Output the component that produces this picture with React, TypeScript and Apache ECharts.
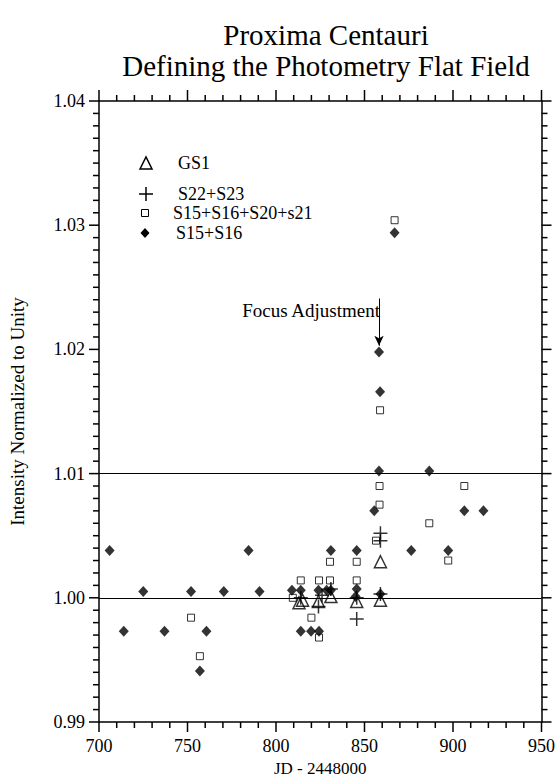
import React, { useEffect, useRef } from "react";
import * as echarts from "echarts";

const titleLines = ["Proxima Centauri", "Defining the Photometry Flat Field"];
const xTitle = "JD - 2448000";
const yTitle = "Intensity Normalized to Unity";

const xRange = [700, 950];
const xStep = 50;
const yRange = [0.99, 1.04];
const yStep = 0.01;
const xMinorPerMajor = 5;
const yMinorPerMajor = 10;

const gs1X = [813, 815, 824, 831, 845.6, 859, 859];
const gs1Y = [0.9996, 0.9998, 0.9997, 1.0001, 0.9997, 1.0029, 0.9998];

const s2223X = [814, 824, 826, 831, 845.6, 845.6, 859, 859, 859];
const s2223Y = [1.0, 0.9993, 1.0002, 1.0007, 1.0, 0.9983, 1.0003, 1.0046, 1.0052];

const sqX = [752, 757, 809.5, 814, 820, 824.3, 824.3, 830.5, 830.5, 845.6, 845.6, 856.5, 858.5, 858.5, 858.8, 867, 886.6, 897.3, 906.4];
const sqY = [0.9984, 0.9953, 1.0, 1.0014, 0.9984, 0.9968, 1.0014, 1.0029, 1.0014, 1.0029, 1.0014, 1.0046, 1.0075, 1.009, 1.0151, 1.0304, 1.006, 1.003, 1.009];

const dmX = [706, 714, 725, 737, 752, 757, 760.7, 770.5, 784.5, 790.7, 809, 814, 814, 819.8, 824, 824.3, 828.6, 831, 831, 845.6, 845.6, 845, 855.5, 858.2, 858.8, 858.2, 859, 867, 876.4, 886.6, 897.3, 906.4, 917.2];
const dmY = [1.0038, 0.9973, 1.0005, 0.9973, 1.0005, 0.9941, 0.9973, 1.0005, 1.0038, 1.0005, 1.0006, 1.0006, 0.9973, 0.9973, 1.0006, 0.9973, 1.0006, 1.0038, 1.0006, 1.0038, 1.0007, 1.0001, 1.007, 1.0102, 1.0166, 1.0198, 1.0003, 1.0294, 1.0038, 1.0102, 1.0038, 1.007, 1.007];

const refLines = [1.0, 1.01];
const arrowX = 858.2;
const arrowFrom = 1.0241;
const arrowTo = 1.0203;
const annotation = "Focus Adjustment";

const legendNames = ["GS1", "S22+S23", "S15+S16+S20+s21", "S15+S16"];

const FONT = "'Liberation Serif', 'Times New Roman', serif";
const zip = (xs: number[], ys: number[]) => xs.map((x, i) => [x, ys[i]]);

// tick specs: [x, y, kind (0 = x tick, 1 = y tick), major]
function tickSpecs() {
  const out: number[][] = [];
  const nx = Math.round((xRange[1] - xRange[0]) / xStep) * xMinorPerMajor;
  for (let i = 0; i <= nx; i++) {
    const v = xRange[0] + (i * xStep) / xMinorPerMajor;
    out.push([v, yRange[0], 0, i % xMinorPerMajor === 0 ? 1 : 0]);
  }
  const ny = Math.round((yRange[1] - yRange[0]) / yStep) * yMinorPerMajor;
  for (let i = 0; i <= ny; i++) {
    const v = +(yRange[0] + (i * yStep) / yMinorPerMajor).toFixed(4);
    out.push([xRange[0], v, 1, i % yMinorPerMajor === 0 ? 1 : 0]);
  }
  return out;
}

function mkAxis(kind: "x" | "y", position: string, main: boolean) {
  const labelStyle = { color: "#000", fontFamily: FONT, fontSize: 18 };
  const base: any = {
    type: "value",
    position,
    min: kind === "x" ? xRange[0] : yRange[0],
    max: kind === "x" ? xRange[1] : yRange[1],
    interval: kind === "x" ? xStep : yStep,
    axisLine: { show: true, onZero: false, lineStyle: { color: "#000", width: 1.5 } },
    axisTick: { show: false },
    minorTick: { show: false },
    splitLine: { show: false },
    minorSplitLine: { show: false },
    axisLabel: main
      ? { ...labelStyle, margin: kind === "x" ? 15 : 14, formatter: kind === "y" ? (v: number) => v.toFixed(2) : (v: number) => String(v) }
      : { show: false },
  };
  if (main) {
    base.name = kind === "x" ? xTitle : yTitle;
    base.nameLocation = "middle";
    base.nameGap = kind === "x" ? 36 : 72;
    base.nameTextStyle = { ...labelStyle, fontSize: kind === "x" ? 17 : 19 };
  }
  return base;
}

export default function App() {
  const ref = useRef<HTMLDivElement>(null);
  useEffect(() => {
    document.body.style.margin = "0";
    const chart = echarts.init(ref.current!, null, { renderer: "svg" });
    const plus = "path://M5,0L5,10M0,5L10,5";
    const tickLine = (x1: number, y1: number, x2: number, y2: number) => ({
      type: "line",
      shape: { x1, y1, x2, y2 },
      style: { stroke: "#000", lineWidth: 1.5 },
    });
    chart.setOption({
      animation: false,
      backgroundColor: "#fff",
      title: {
        text: titleLines.join("\n"),
        left: 321,
        top: 14,
        textAlign: "center",
        textStyle: { fontFamily: FONT, fontSize: 29, fontWeight: "normal", color: "#000", lineHeight: 31 },
      },
      grid: { left: 95.5, right: 13, top: 101, bottom: 62 },
      xAxis: [mkAxis("x", "bottom", true), mkAxis("x", "top", false)],
      yAxis: [mkAxis("y", "left", true), mkAxis("y", "right", false)],
      graphic: [
        { type: "polygon", shape: { points: [[140, 169], [146, 157], [152, 169]] }, style: { fill: "none", stroke: "#000", lineWidth: 1.5 } },
        { type: "text", x: 178, y: 163, style: { text: legendNames[0], font: `18px ${FONT}`, fill: "#000", textVerticalAlign: "middle" } },
        { type: "line", shape: { x1: 139, y1: 194, x2: 153, y2: 194 }, style: { stroke: "#000", lineWidth: 1.5 } },
        { type: "line", shape: { x1: 146, y1: 187, x2: 146, y2: 201 }, style: { stroke: "#000", lineWidth: 1.5 } },
        { type: "text", x: 178, y: 194, style: { text: legendNames[1], font: `18px ${FONT}`, fill: "#000", textVerticalAlign: "middle" } },
        { type: "rect", shape: { x: 141.5, y: 209.5, width: 7, height: 7 }, style: { fill: "none", stroke: "#000", lineWidth: 1 } },
        { type: "text", x: 173, y: 213, style: { text: legendNames[2], font: `18px ${FONT}`, fill: "#000", textVerticalAlign: "middle" } },
        { type: "polygon", shape: { points: [[145, 228], [149.5, 233], [145, 238], [140.5, 233]] }, style: { fill: "#000" } },
        { type: "text", x: 176, y: 233, style: { text: legendNames[3], font: `18px ${FONT}`, fill: "#000", textVerticalAlign: "middle" } },
        { type: "text", x: 380, y: 310, style: { text: annotation, font: `19px ${FONT}`, fill: "#000", textAlign: "right", textVerticalAlign: "middle" } },
      ],
      series: [
        {
          type: "custom",
          silent: true,
          clip: false,
          z: 5,
          data: tickSpecs(),
          encode: { x: 0, y: 1 },
          renderItem: (_params: any, api: any) => {
            const x = api.value(0);
            const y = api.value(1);
            const kind = api.value(2);
            const major = api.value(3) === 1;
            if (kind === 0) {
              const b = api.coord([x, yRange[0]]);
              const t = api.coord([x, yRange[1]]);
              const lb = major ? 10 : 6;
              const lt = major ? 11 : 6;
              return { type: "group", children: [tickLine(b[0], b[1], b[0], b[1] + lb), tickLine(t[0], t[1], t[0], t[1] - lt)] };
            }
            const l = api.coord([xRange[0], y]);
            const r = api.coord([xRange[1], y]);
            const len = major ? 10 : 6;
            return { type: "group", children: [tickLine(l[0], l[1], l[0] - len, l[1]), tickLine(r[0], r[1], r[0] + len, r[1])] };
          },
        },
        {
          name: legendNames[2], type: "scatter", data: zip(sqX, sqY),
          symbol: "rect", symbolSize: 7,
          itemStyle: { color: "#fff", borderColor: "#000", borderWidth: 1 },
          markLine: {
            silent: true, symbol: ["none", "none"],
            lineStyle: { color: "#000", width: 1, type: "solid" },
            label: { show: false },
            data: refLines.map((v) => ({ yAxis: v })),
          },
        },
        {
          name: legendNames[3], type: "scatter", data: zip(dmX, dmY),
          symbol: "diamond", symbolSize: [10, 11],
          itemStyle: { color: "#000" },
        },
        {
          name: legendNames[1], type: "scatter", data: zip(s2223X, s2223Y),
          symbol: plus, symbolSize: 14,
          itemStyle: { color: "none", borderColor: "#000", borderWidth: 1.5 },
        },
        {
          name: legendNames[0], type: "scatter", data: zip(gs1X, gs1Y),
          symbol: "triangle", symbolSize: [12, 12],
          itemStyle: { color: "none", borderColor: "#000", borderWidth: 1.5 },
          markLine: {
            silent: true, symbol: ["none", "arrow"], symbolSize: [7, 10],
            lineStyle: { color: "#000", width: 1, type: "solid" },
            label: { show: false },
            data: [[{ coord: [arrowX, arrowFrom] }, { coord: [arrowX, arrowTo] }]],
          },
        },
      ],
    });
    return () => chart.dispose();
  }, []);
  return <div ref={ref} style={{ width: 558, height: 784 }} />;
}
